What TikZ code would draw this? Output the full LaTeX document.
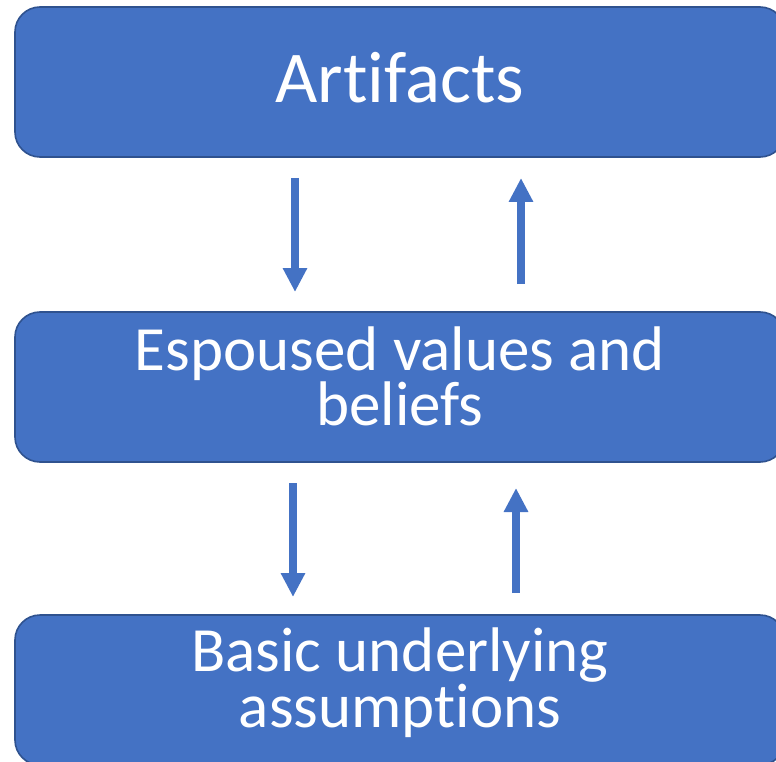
\documentclass[tikz,border=0pt]{standalone}
\usepackage{fontspec}
\setmainfont[Ligatures=CommonOff]{Carlito}
\usetikzlibrary{arrows.meta}
\definecolor{boxfill}{HTML}{4472C4}
\definecolor{boxline}{HTML}{2F528F}
\tikzset{
  layer/.style={draw=boxline, line width=1.6pt, fill=boxfill, rectangle,
    rounded corners=25pt, minimum width=770pt, minimum height=150pt, inner sep=0pt},
  lbl/.style={text=white, align=center, inner sep=0pt},
  bigtxt/.style={font=\fontsize{73}{80}\selectfont},
  midtxt/.style={font=\fontsize{63}{52.5}\selectfont},
  flow/.style={draw=boxfill, line width=8pt,
    -{Triangle[width=23pt,length=24pt]}}
}
\begin{document}
\begin{tikzpicture}[x=1pt, y=-1pt]
  \useasboundingbox (0,0) rectangle (776,762);
  \begin{scope}
    \clip (0,0) rectangle (776,762);
    % the three layers
    \node[layer] (art) at (400,82) {};
    \node[layer] (esp) at (400,387) {};
    \node[layer] (bas) at (400,690) {};
    % labels, anchored on the baseline of their last line
    \node[lbl, bigtxt, anchor=base] (artt) at (400,103) {Artifacts};
    \node[lbl, midtxt, anchor=base] (espt) at (400,425) {Espoused values and\\beliefs};
    \node[lbl, midtxt, anchor=base] (bast) at (400,727) {Basic underlying\\assumptions};
  \end{scope}
  % arrow end points between the layers
  \coordinate (d1a) at (295,178);
  \coordinate (d1b) at (295,292);
  \coordinate (u1a) at (521,284);
  \coordinate (u1b) at (521,178);
  \coordinate (d2a) at (293,483);
  \coordinate (d2b) at (293,597);
  \coordinate (u2a) at (516,593);
  \coordinate (u2b) at (516,488);
  \draw[flow] (d1a) -- (d1b);
  \draw[flow] (u1a) -- (u1b);
  \draw[flow] (d2a) -- (d2b);
  \draw[flow] (u2a) -- (u2b);
\end{tikzpicture}
\end{document}
